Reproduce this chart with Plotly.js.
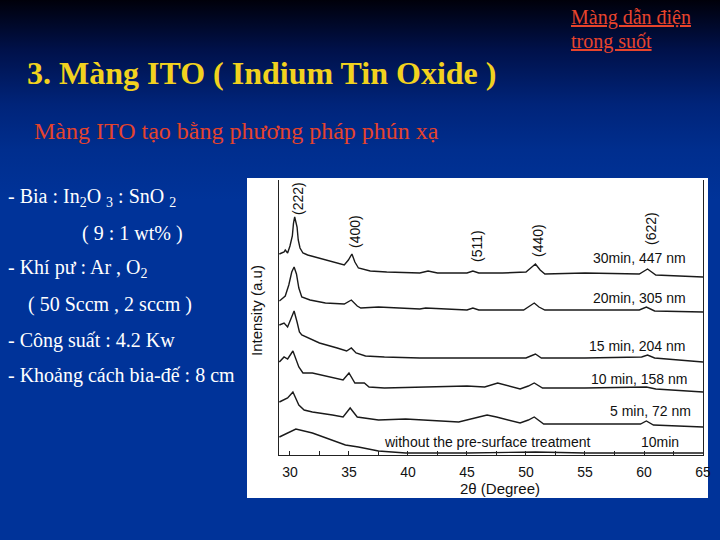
<!DOCTYPE html>
<html>
<head>
<meta charset="utf-8">
<script src="https://cdn.plot.ly/plotly-3.0.1.min.js"></script>
<style>
  html, body { margin: 0; padding: 0; }
  body {
    width: 720px; height: 540px; overflow: hidden;
    background: linear-gradient(to bottom, #00000a 0px, #00114a 50px, #00247a 105px, #002e8e 150px, #003399 200px, #003399 540px);
  }
  #chart { width: 720px; height: 540px; }
</style>
</head>
<body>
<div id="chart"></div>
<script>
// ---- Data (2θ in degrees, intensity in arbitrary offset units) ----
const x30  = [29.1, 29.5, 29.6, 29.8, 30.0, 30.2, 30.3, 30.4, 30.6, 30.7, 30.85, 31.1, 31.5, 32.5, 33.6, 34.6, 34.95, 35.25, 35.5, 35.8, 36.8, 38.2, 41.0, 41.7, 42.5, 45.0, 45.5, 46.0, 48.0, 50.0, 50.4, 50.8, 51.2, 51.6, 55.0, 59.6, 60.3, 61.0, 63.0, 65.0];
const y30  = [201, 203, 205, 202, 209, 219, 232, 238, 228, 215, 207, 202, 200, 197, 193, 190, 195, 201, 193, 187, 184, 183, 182, 184, 182, 182, 184, 182, 182, 183, 187, 191, 185, 181, 182, 181, 186, 180, 179, 178];

const x20  = [29.1, 29.6, 29.9, 30.15, 30.35, 30.55, 30.75, 31.0, 31.7, 33.0, 34.6, 35.2, 35.7, 36.0, 37.5, 41.0, 41.5, 45.0, 45.5, 46.0, 49.8, 50.3, 50.7, 51.1, 51.6, 55.0, 59.6, 60.2, 60.9, 65.0];
const y20  = [154, 159, 170, 183, 188, 181, 167, 158, 155, 152, 151, 155, 149, 147, 148, 146, 147, 145, 147, 145, 145, 149, 152, 148, 145, 145, 145, 148, 144, 143];

const x15  = [29.1, 29.5, 29.8, 30.05, 30.35, 30.6, 30.8, 31.0, 31.7, 32.5, 34.0, 34.8, 35.2, 35.6, 36.4, 38.0, 41.0, 45.0, 50.0, 50.4, 50.8, 51.3, 55.0, 59.8, 60.3, 60.9, 65.0];
const y15  = [130, 132, 128, 135, 144, 133, 123, 120, 116, 112, 107, 104, 107, 102, 99, 98, 97, 97, 97, 99, 101, 97, 97, 98, 100, 97, 93];

const x10  = [29.1, 29.5, 29.8, 30.25, 30.75, 31.1, 31.9, 33.3, 34.5, 35.0, 35.5, 36.3, 36.7, 38.0, 41.0, 45.0, 46.5, 47.6, 49.5, 50.2, 50.7, 51.4, 55.0, 60.2, 61.0, 65.0];
const y10  = [93, 98, 96, 104, 88, 82, 82, 78, 75, 82, 72, 72, 68, 67, 68, 69, 68, 72, 66, 69, 72, 67, 67, 68, 66, 63];

const x5   = [29.1, 29.8, 30.25, 30.75, 31.2, 31.9, 33.6, 34.5, 35.1, 35.7, 37.5, 39.8, 44.3, 46.0, 46.7, 47.5, 49.5, 50.2, 50.7, 51.5, 55.0, 59.7, 60.2, 60.8, 65.0];
const y5   = [53, 57, 63, 50, 45, 43, 40, 38, 47, 38, 35, 36, 33, 38, 40, 38, 32, 35, 38, 31, 31, 31, 34, 30, 28];

const x0   = [29.1, 30.0, 30.5, 31.9, 33.6, 34.7, 35.8, 37.5, 39.8, 45.0, 50.8, 55.0, 60.3, 65.0];
const y0   = [18, 23, 26, 22, 15, 10, 8, 4, 2, 2, 3, 2, 2, 2];

const seriesNames = ["30min, 447 nm", "20min, 305 nm", "15 min, 204 nm", "10 min, 158 nm", "5 min, 72 nm", "without the pre-surface treatment"];
const peakLabels  = ["(222)", "(400)", "(511)", "(440)", "(622)"];
const xTickVals   = [30, 35, 40, 45, 50, 55, 60, 65];

// ---- pixel helpers for slide layout (plot area: x 279..703, y 180..455) ----
const PL = 279, PR = 703, PT = 180, PB = 455;
const fx = p => (p - PL) / (PR - PL);
const fy = p => (PB - p) / (PB - PT);

const serif = "Liberation Serif";
const sans  = "Liberation Sans";
const lineStyle = {color: "#1a1a1a", width: 1.4};

const xs = [x30, x20, x15, x10, x5, x0];
const ys = [y30, y20, y15, y10, y5, y0];
const traces = xs.map((xx, i) => ({
  type: "scatter", mode: "lines", x: xx, y: ys[i], name: seriesNames[i],
  line: lineStyle, hoverinfo: "skip"
}));

const ann = [];
function slideText(text, xpx, ypx, opts) {
  ann.push(Object.assign({
    text: text, xref: "paper", yref: "paper", x: fx(xpx), y: fy(ypx),
    xanchor: "left", yanchor: "middle", showarrow: false, borderpad: 0
  }, opts));
}

// slide titles
slideText("<u>Màng dẫn điện</u>", 570, 17, {font: {family: serif, size: 20, color: "#e8442c"}});
slideText("<u>trong suốt</u>", 570, 41, {font: {family: serif, size: 20, color: "#e8442c"}});
slideText("<b>3. Màng ITO ( Indium Tin Oxide )</b>", 26, 73, {font: {family: serif, size: 32, color: "#f2d21e"}});
slideText("Màng ITO tạo bằng phương pháp phún xạ", 33, 131, {font: {family: serif, size: 24, color: "#e5432c"}});

const wf = {family: serif, size: 20, color: "#ffffff"};
slideText("- Bia : In<sub>2</sub>O <sub>3</sub> : SnO <sub>2</sub>", 7, 197, {font: wf});
slideText("( 9 : 1 wt% )", 81, 233, {font: wf});
slideText("- Khí pư : Ar , O<sub>2</sub>", 7, 268, {font: wf});
slideText("( 50 Sccm , 2 sccm )", 27, 304, {font: wf});
slideText("- Công suất : 4.2 Kw", 7, 340, {font: wf});
slideText("- Khoảng cách bia-đế : 8 cm", 7, 375, {font: wf});

// chart texts
const cf = {family: sans, size: 14, color: "#111111"};
const peakPos = [[298, 199], [355, 232], [477, 246], [538, 241], [651, 229]];
peakLabels.forEach((t, i) => {
  ann.push({text: t, xref: "paper", yref: "paper", x: fx(peakPos[i][0]), y: fy(peakPos[i][1]),
            xanchor: "center", yanchor: "middle", textangle: -90, showarrow: false, font: cf, borderpad: 0});
});
const labPos = [[687, 258], [687, 298], [687, 346], [689, 379], [692, 411]];
labPos.forEach((p, i) => {
  ann.push({text: seriesNames[i], xref: "paper", yref: "paper", x: fx(p[0]), y: fy(p[1]),
            xanchor: "right", yanchor: "middle", showarrow: false, font: cf, borderpad: 0});
});
ann.push({text: seriesNames[5], xref: "paper", yref: "paper", x: fx(383), y: fy(442),
          xanchor: "left", yanchor: "middle", showarrow: false, font: cf, borderpad: 0});
ann.push({text: "10min", xref: "paper", yref: "paper", x: fx(680), y: fy(442),
          xanchor: "right", yanchor: "middle", showarrow: false, font: cf, borderpad: 0});
ann.push({text: "2θ (Degree)", xref: "paper", yref: "paper", x: fx(500), y: fy(488),
          xanchor: "center", yanchor: "middle", showarrow: false, font: {family: sans, size: 15, color: "#111"}, borderpad: 0});
ann.push({text: "Intensity (a.u)", xref: "paper", yref: "paper", x: fx(256), y: fy(311),
          xanchor: "center", yanchor: "middle", textangle: -90, showarrow: false, font: {family: sans, size: 15, color: "#111"}, borderpad: 0});

const layout = {
  width: 720, height: 540,
  margin: {l: PL, r: 720 - PR, t: PT, b: 540 - PB, pad: 0},
  paper_bgcolor: "rgba(0,0,0,0)", plot_bgcolor: "rgba(0,0,0,0)",
  showlegend: false,
  font: {family: sans, size: 14, color: "#111"},
  xaxis: {
    range: [29.07, 65], tickvals: xTickVals, ticks: "inside", ticklen: 4, tickcolor: "#222",
    showline: true, linecolor: "#222", linewidth: 1, mirror: false, showgrid: false, zeroline: false,
    minor: {dtick: 2.5, ticks: "inside", ticklen: 4, tickcolor: "#222", showgrid: false},
    tickfont: {family: sans, size: 14, color: "#111"}, ticklabelstandoff: 4
  },
  yaxis: {
    range: [0, 275], showticklabels: false, ticks: "", showline: true, linecolor: "#222",
    linewidth: 1, mirror: true, showgrid: false, zeroline: false
  },
  shapes: [{
    type: "rect", xref: "paper", yref: "paper", layer: "below",
    x0: fx(247), x1: fx(708), y0: fy(498), y1: fy(178),
    fillcolor: "#ffffff", line: {width: 0}
  }],
  annotations: ann
};

Plotly.newPlot("chart", traces, layout, {displayModeBar: false, staticPlot: true});
</script>
</body>
</html>
